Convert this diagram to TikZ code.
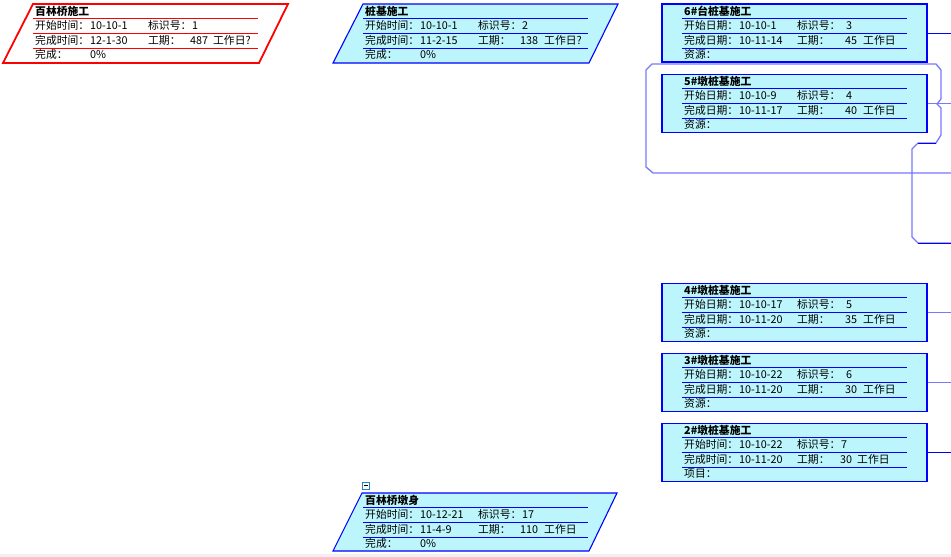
\documentclass[tikz,border=0pt]{standalone}
\usepackage{fontspec}
\setmainfont{Noto Sans CJK SC}
\definecolor{cfill}{RGB}{188,246,252}
\definecolor{dblue}{RGB}{0,0,255}
\definecolor{lblue}{RGB}{120,120,255}
\newcommand\cl[2]{\makebox[#1pt][l]{#2}}
\newcommand\cR[2]{\makebox[#1pt][r]{#2}}
\newcommand\taskrows[7]{%
  \node[ttl] (#1t) at (#2,#3+11.5) {#4};
  \node[row] (#1a) at (#2,#3+25.5) {#5};
  \node[row] (#1b) at (#2,#3+40.5) {#6};
  \node[row] (#1c) at (#2,#3+54.5) {#7};
}
\newcommand\seps[3]{\foreach \d in {14,29,44} {\draw[#1] (#2-2,#3+\d) -- ++(225,0);}}
\tikzset{
  rbox/.style={draw=dblue, line width=1.1pt, fill=cfill, minimum width=265pt, minimum height=58pt, inner sep=0pt},
  pbox/.style={draw=dblue, line width=1.1pt, fill=cfill},
  redbox/.style={draw=red, line width=1.8pt, fill=white},
  ttl/.style={anchor=base west, inner sep=0pt, font=\fontsize{10.8}{12}\selectfont\bfseries},
  row/.style={anchor=base west, inner sep=0pt, font=\fontsize{10.8}{12}\selectfont},
  sepb/.style={draw=dblue, line width=0.9pt},
  sepr/.style={draw=red, line width=0.9pt},
  dline/.style={draw=dblue, line width=1pt},
  lline/.style={draw=lblue, line width=1.3pt},
  iconbox/.style={draw={rgb,255:red,40;green,130;blue,200}, fill=white, line width=0.8pt, minimum size=7pt, inner sep=0pt},
}
\begin{document}
\begin{tikzpicture}[x=1pt,y=-1pt]
\useasboundingbox (0,0) rectangle (951,557);
\fill[gray!12] (0,554) rectangle (951,557);

% connectors on the right
\coordinate (e6) at (951,33);
\coordinate (e5) at (951,103.5);
\coordinate (e4) at (951,312.5);
\coordinate (e3) at (951,382.5);
\coordinate (e2) at (951,452.5);
\coordinate (cA) at (951,173);
\coordinate (cB) at (951,243);
\draw[lline] (cA) -- (653,173) -- (646,167) -- (646,70) -- (652,64) -- (936,64) -- (941,70) -- (941,99) -- (937,104) -- (941,108) -- (941,135) -- (936,143) -- (918,143) -- (912,149) -- (912,237) -- (918,243) -- (cB);
\draw[dline] (936,143) -- (918,143);
\draw[dline] (918,243) -- (cB);

% parallelograms
\path[redbox] (33,4) -- (288,4) -- (259,63) -- (3,63) -- cycle;
\path[pbox] (363,4) -- (618,4) -- (589,63) -- (333,63) -- cycle;
\path[pbox] (362,493) -- (617,493) -- (589,551) -- (333,551) -- cycle;

% rectangles
\node[rbox] (b6) at (794.5,33) {};
\node[rbox] (b5) at (794.5,103.5) {};
\node[rbox] (b4) at (794.5,312.5) {};
\node[rbox] (b3) at (794.5,382.5) {};
\node[rbox] (b2) at (794.5,452.5) {};

\draw[dline] (b6.east) -- (e6);
\draw[lline] (b5.east) -- (e5);
\draw[lline] (b4.east) -- (e4);
\draw[lline] (b3.east) -- (e3);
\draw[dline] (b2.east) -- (e2);

% separators
\seps{sepr}{35}{4}
\seps{sepb}{365}{4}
\seps{sepb}{365}{493}
\seps{sepb}{684}{4}
\seps{sepb}{684}{74}
\seps{sepb}{684}{283}
\seps{sepb}{684}{353}
\seps{sepb}{684}{423}

% texts
\taskrows{p1}{35}{4}{百林桥施工}
  {\cl{55}{开始时间：}\cl{58}{10-10-1}\cl{44}{标识号：}1}
  {\cl{55}{完成时间：}\cl{58}{12-1-30}\cl{44}{工期：}\cR{16}{487}\hspace{5pt}工作日?}
  {\cl{55}{完成：}0\%}
\taskrows{p2}{365}{4}{桩基施工}
  {\cl{55}{开始时间：}\cl{58}{10-10-1}\cl{44}{标识号：}2}
  {\cl{55}{完成时间：}\cl{58}{11-2-15}\cl{44}{工期：}\cR{16}{138}\hspace{6pt}工作日?}
  {\cl{55}{完成：}0\%}
\taskrows{p7}{365}{493}{百林桥墩身}
  {\cl{55}{开始时间：}\cl{58}{10-12-21}\cl{44}{标识号：}17}
  {\cl{55}{完成时间：}\cl{58}{11-4-9}\cl{44}{工期：}\cR{16}{110}\hspace{6pt}工作日}
  {\cl{55}{完成：}0\%}
\taskrows{r6}{684}{4}{6\#台桩基施工}
  {\cl{55}{开始日期：}\cl{58}{10-10-1}\cl{49}{标识号：}3}
  {\cl{55}{完成日期：}\cl{58}{10-11-14}\cl{44}{工期：}\cR{16}{45}\hspace{6pt}工作日}
  {资源：}
\taskrows{r5}{684}{74}{5\#墩桩基施工}
  {\cl{55}{开始日期：}\cl{58}{10-10-9}\cl{49}{标识号：}4}
  {\cl{55}{完成日期：}\cl{58}{10-11-17}\cl{44}{工期：}\cR{16}{40}\hspace{6pt}工作日}
  {资源：}
\taskrows{r4}{684}{283}{4\#墩桩基施工}
  {\cl{55}{开始日期：}\cl{58}{10-10-17}\cl{49}{标识号：}5}
  {\cl{55}{完成日期：}\cl{58}{10-11-20}\cl{44}{工期：}\cR{16}{35}\hspace{6pt}工作日}
  {资源：}
\taskrows{r3}{684}{353}{3\#墩桩基施工}
  {\cl{55}{开始日期：}\cl{58}{10-10-22}\cl{49}{标识号：}6}
  {\cl{55}{完成日期：}\cl{58}{10-11-20}\cl{44}{工期：}\cR{16}{30}\hspace{6pt}工作日}
  {资源：}
\taskrows{r2}{684}{423}{2\#墩桩基施工}
  {\cl{55}{开始时间：}\cl{58}{10-10-22}\cl{44}{标识号：}7}
  {\cl{55}{完成时间：}\cl{58}{10-11-20}\cl{44}{工期：}\cR{11}{30}\hspace{5pt}工作日}
  {项目：}

% collapse icon
\node[iconbox] (icon) at (366,485.5) {};
\draw[line width=0.8pt] ([xshift=1.5pt]icon.west) -- ([xshift=-1.5pt]icon.east);
\end{tikzpicture}
\end{document}
